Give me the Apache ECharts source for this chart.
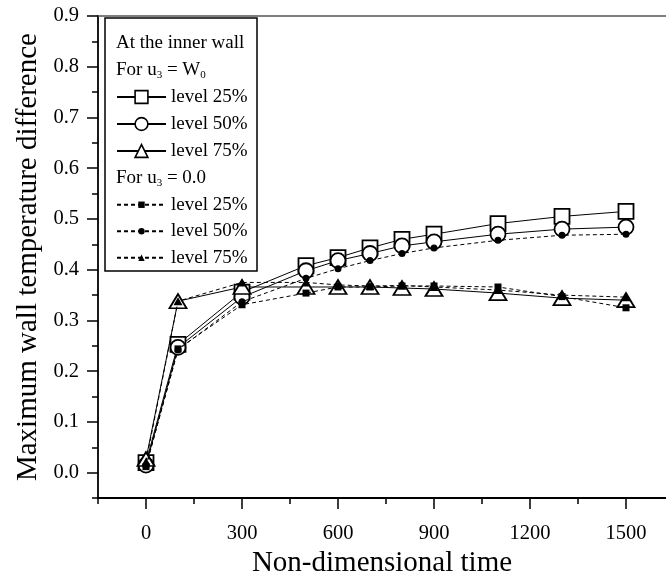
<!DOCTYPE html>
<html>
<head>
<meta charset="utf-8">
<script src="https://cdn.jsdelivr.net/npm/echarts@6/dist/echarts.min.js"></script>
<style>html,body{margin:0;padding:0;background:#fff}#c{width:666px;height:583px}</style>
</head>
<body>
<div id="c"></div>
<script>
// Data
var times = [0, 100, 300, 500, 600, 700, 800, 900, 1100, 1300, 1500];
var w0_level25 = [0.020, 0.253, 0.356, 0.408, 0.424, 0.443, 0.460, 0.470, 0.491, 0.505, 0.515];
var w0_level50 = [0.015, 0.247, 0.346, 0.398, 0.418, 0.432, 0.447, 0.455, 0.470, 0.480, 0.484];
var w0_level75 = [0.027, 0.338, 0.366, 0.366, 0.366, 0.366, 0.364, 0.362, 0.354, 0.344, 0.340];
var z_level25 = [0.012, 0.244, 0.331, 0.354, 0.366, 0.366, 0.368, 0.368, 0.366, 0.347, 0.325];
var z_level50 = [0.013, 0.242, 0.337, 0.383, 0.402, 0.418, 0.432, 0.443, 0.458, 0.468, 0.470];
var z_level75 = [0.022, 0.338, 0.375, 0.375, 0.370, 0.368, 0.369, 0.366, 0.360, 0.350, 0.346];
var xMajorTicks = [0, 300, 600, 900, 1200, 1500];
var xMinorTicks = [-150, 150, 450, 750, 1050, 1350];
var yMajorTicks = [0, 0.1, 0.2, 0.3, 0.4, 0.5, 0.6, 0.7, 0.8, 0.9];
var yMinorTicks = [-0.05, 0.05, 0.15, 0.25, 0.35, 0.45, 0.55, 0.65, 0.75, 0.85];

function pairs(ys){ return times.map(function(t,i){ return [t, ys[i]]; }); }

var FONT = 'Liberation Serif';
var chart = echarts.init(document.getElementById('c'));
var xMin = -150, xMax = 1625;
var yMin = -0.05, yMax = 0.9;

function openSeries(name, sym, size, ys){
  return {name: name, type: 'line', data: pairs(ys), symbol: sym, symbolSize: size,
    lineStyle: {color: '#000', width: 1, type: 'solid'},
    itemStyle: {color: '#fff', borderColor: '#000', borderWidth: 1.8},
    z: 2, animation: false};
}
function filledSeries(name, sym, size, ys){
  return {name: name, type: 'line', data: pairs(ys), symbol: sym, symbolSize: size,
    lineStyle: {color: '#000', width: 1, type: [4, 3]},
    itemStyle: {color: '#000', borderColor: '#000', borderWidth: 0},
    z: 3, animation: false};
}

var sub = {fontSize: 11, lineHeight: 9, verticalAlign: 'bottom', fontFamily: FONT, color: '#000'};

var option = {
  animation: false,
  grid: {left: 98, right: 0, top: 16, bottom: 76, containLabel: false},
  xAxis: [
    {type: 'value', min: xMin, max: xMax, position: 'bottom',
     axisLine: {show: true, onZero: false, lineStyle: {color: '#000', width: 1.8}},
     axisTick: {show: true, length: 11, customValues: xMajorTicks, lineStyle: {color: '#000', width: 1.5}},
     axisLabel: {show: true, customValues: xMajorTicks, color: '#000', fontFamily: FONT, fontSize: 20.5, margin: 25,
       formatter: function(v){ return String(v); }},
     splitLine: {show: false},
     name: 'Non-dimensional time', nameLocation: 'middle', nameGap: 48,
     nameTextStyle: {color: '#000', fontFamily: FONT, fontSize: 29}},
    {type: 'value', min: xMin, max: xMax, position: 'bottom',
     axisLine: {show: false, onZero: false},
     axisTick: {show: true, length: 6, customValues: xMinorTicks, lineStyle: {color: '#000', width: 1.5}},
     axisLabel: {show: false}, splitLine: {show: false}},
    {type: 'value', min: xMin, max: xMax, position: 'top',
     axisLine: {show: true, onZero: false, lineStyle: {color: '#555', width: 1.5}},
     axisTick: {show: false}, axisLabel: {show: false}, splitLine: {show: false}}
  ],
  yAxis: [
    {type: 'value', min: yMin, max: yMax, position: 'left',
     axisLine: {show: true, onZero: false, lineStyle: {color: '#000', width: 1.8}},
     axisTick: {show: true, length: 11, customValues: yMajorTicks, lineStyle: {color: '#000', width: 1.5}},
     axisLabel: {show: true, customValues: yMajorTicks, color: '#000', fontFamily: FONT, fontSize: 20.5, margin: 19,
       formatter: function(v){ return v.toFixed(1); }},
     splitLine: {show: false},
     name: 'Maximum wall temperature difference', nameLocation: 'middle', nameGap: 55,
     nameTextStyle: {color: '#000', fontFamily: FONT, fontSize: 29}},
    {type: 'value', min: yMin, max: yMax, position: 'left',
     axisLine: {show: false, onZero: false},
     axisTick: {show: true, length: 6, customValues: yMinorTicks, lineStyle: {color: '#000', width: 1.5}},
     axisLabel: {show: false}, splitLine: {show: false}}
  ],
  legend: [
    {orient: 'vertical', left: 116, top: 83.5, padding: 0, itemWidth: 49, itemHeight: 16, itemGap: 0, z: 20,
     data: ['a|level 25%', 'b|level 50%', 'c|level 75%'],
     formatter: function(n){ return n.split('|')[1]; },
     itemStyle: {borderWidth: 1.6},
     textStyle: {color: '#000', fontFamily: FONT, fontSize: 19, lineHeight: 27}, selectedMode: false},
    {orient: 'vertical', left: 116, top: 191.5, padding: 0, itemWidth: 49, itemHeight: 8, itemGap: 0, z: 20,
     data: ['d|level 25%', 'e|level 50%', 'f|level 75%'],
     formatter: function(n){ return n.split('|')[1]; },
     textStyle: {color: '#000', fontFamily: FONT, fontSize: 19, lineHeight: 26.5}, selectedMode: false}
  ],
  graphic: [
    {type: 'rect', z: 5, shape: {x: 105, y: 18, width: 152, height: 253},
     style: {fill: '#fff', stroke: '#000', lineWidth: 1.5}},
    {type: 'text', z: 21, x: 116, y: 43,
     style: {text: 'At the inner wall', font: '19px "Liberation Serif"', fill: '#000', verticalAlign: 'middle'}},
    {type: 'text', z: 21, x: 116, y: 70,
     style: {text: 'For u{s|3} = W{s|0}', font: '19px "Liberation Serif"', fill: '#000', lineHeight: 22,
       verticalAlign: 'middle', rich: {s: sub}}},
    {type: 'text', z: 21, x: 116, y: 178,
     style: {text: 'For u{s|3} = 0.0', font: '19px "Liberation Serif"', fill: '#000', lineHeight: 22,
       verticalAlign: 'middle', rich: {s: sub}}}
  ],
  series: [
    openSeries('a|level 25%', 'rect', 15, w0_level25),
    openSeries('b|level 50%', 'circle', 15, w0_level50),
    openSeries('c|level 75%', 'triangle', [17, 14], w0_level75),
    filledSeries('d|level 25%', 'rect', 7, z_level25),
    filledSeries('e|level 50%', 'circle', 7, z_level50),
    filledSeries('f|level 75%', 'triangle', [9, 8], z_level75)
  ]
};
chart.setOption(option);
</script>
</body>
</html>
